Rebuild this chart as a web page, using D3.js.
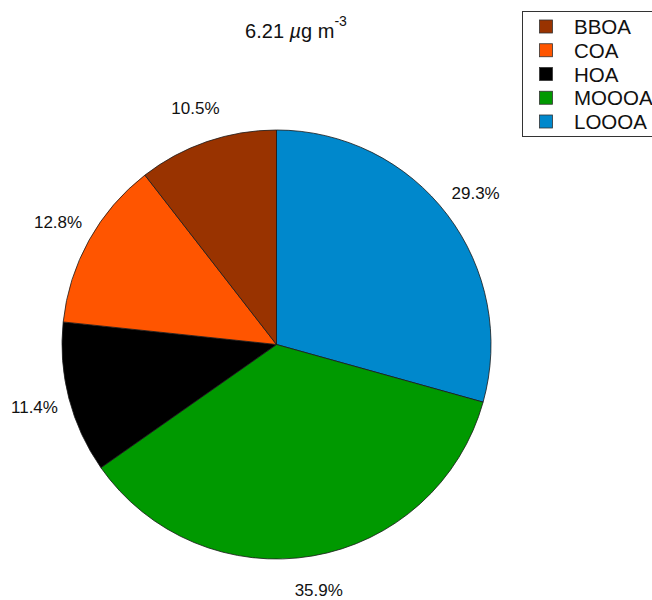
<!DOCTYPE html>
<html>
<head>
<meta charset="utf-8">
<script src="https://cdn.jsdelivr.net/npm/d3@7/dist/d3.min.js"></script>
<style>
  html, body { margin: 0; padding: 0; background: #fff; }
  svg { display: block; font-family: "Liberation Sans", Arial, sans-serif; }
</style>
</head>
<body>
<svg id="chart" width="652" height="600"></svg>
<script>
// Source-apportionment fractions of organic aerosol (%)
const factors = ["BBOA", "COA", "HOA", "MOOOA", "LOOOA"];
const shares = [10.5, 12.8, 11.4, 35.9, 29.3];
const colors = ["#993300", "#FF5500", "#000000", "#009900", "#0088CC"];
// Wedges run clockwise from 12 o'clock in this order
const wedgeOrder = ["LOOOA", "MOOOA", "HOA", "COA", "BBOA"];

const svg = d3.select("#chart");
const cx = 276.5, cy = 344.5, radius = 214.5, labelRadius = 250;

const rows = factors.map((f, i) => ({ name: f, value: shares[i], color: colors[i] }));
const ordered = wedgeOrder.map(n => rows.find(r => r.name === n));

const color = d3.scaleOrdinal().domain(factors).range(colors);
const pie = d3.pie().sort(null).value(d => d.value);
const arc = d3.arc().innerRadius(0).outerRadius(radius);
const labelArc = d3.arc().innerRadius(labelRadius).outerRadius(labelRadius);

const g = svg.append("g").attr("transform", `translate(${cx},${cy})`);
const arcs = pie(ordered);

g.selectAll("path.wedge")
  .data(arcs)
  .join("path")
  .attr("class", "wedge")
  .attr("d", arc)
  .attr("fill", d => color(d.data.name))
  .attr("stroke", "#1a1a1a")
  .attr("stroke-width", 0.8)
  .attr("stroke-linejoin", "round");

g.selectAll("text.pct")
  .data(arcs)
  .join("text")
  .attr("class", "pct")
  .attr("transform", d => `translate(${labelArc.centroid(d)})`)
  .attr("text-anchor", "middle")
  .attr("dominant-baseline", "central")
  .attr("font-size", 17)
  .attr("fill", "#111")
  .text(d => d.data.value.toFixed(1) + "%");

// Title: total mass concentration
const title = svg.append("text")
  .attr("x", 296)
  .attr("y", 38)
  .attr("text-anchor", "middle")
  .attr("font-size", 20)
  .attr("fill", "#111");
title.append("tspan").text("6.21 ");
title.append("tspan").attr("font-style", "italic").text("\u00B5");
title.append("tspan").text("g m");
title.append("tspan").attr("font-size", 14).attr("dy", -12).text("-3");

// Legend
const legend = svg.append("g");
legend.append("rect")
  .attr("x", 522.5).attr("y", 11.5)
  .attr("width", 160).attr("height", 125)
  .attr("fill", "#fff")
  .attr("stroke", "#333")
  .attr("stroke-width", 1);

const rowY = d3.scalePoint().domain(factors).range([26.5, 121.5]);

const items = legend.selectAll("g.item")
  .data(rows)
  .join("g")
  .attr("class", "item")
  .attr("transform", d => `translate(0,${rowY(d.name)})`);

items.append("rect")
  .attr("x", 539.5).attr("y", -6.5)
  .attr("width", 13).attr("height", 13)
  .attr("fill", d => color(d.name))
  .attr("stroke", "#333")
  .attr("stroke-width", 0.8);

items.append("text")
  .attr("x", 574)
  .attr("y", 0)
  .attr("dominant-baseline", "central")
  .attr("font-size", 20.5)
  .attr("fill", "#111")
  .text(d => d.name);
</script>
</body>
</html>
